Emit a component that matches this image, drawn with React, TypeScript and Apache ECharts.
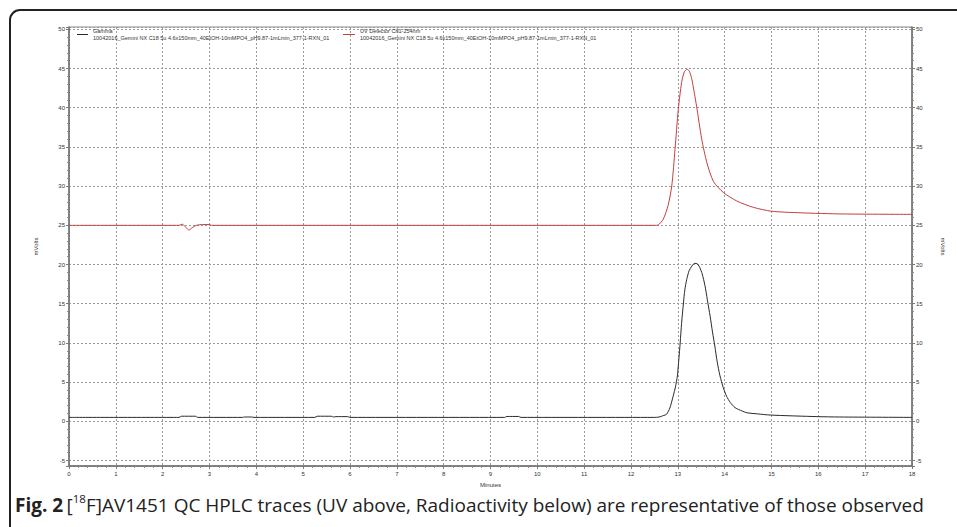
import { useEffect, useRef } from 'react';
import * as echarts from 'echarts';

// ---- data ----
const xMin = 0;
const xMax = 18;
const yMin = -5.7;
const yMax = 50.3;

const gammaName = 'Gamma';
const uvName = 'UV Detector Ch1-254nm';
const runFile = '10042016_Gemini NX C18 5u 4.6x150mm_40EtOH-10mMPO4_pH9.87-1mLmin_377-1-RXN_01';

const gammaTimes = [
  0, 2.35, 2.4, 2.7, 2.75, 3.7, 3.75, 3.9, 3.95, 5.25, 5.3, 5.6, 5.65, 5.7, 5.95, 6.0,
  9.3, 9.35, 9.6, 9.65, 12.5, 12.6, 12.7, 12.76, 12.83, 12.9, 12.95, 12.99, 13.02, 13.05,
  13.08, 13.12, 13.15, 13.19, 13.24, 13.3, 13.34, 13.39, 13.43, 13.47, 13.52, 13.58, 13.63,
  13.69, 13.74, 13.79, 13.84, 13.9, 13.97, 14.04, 14.12, 14.22, 14.3, 14.47, 14.7, 14.97,
  15.97, 16.46, 18,
];
const gammaValues = [
  0.5, 0.5, 0.65, 0.65, 0.5, 0.5, 0.55, 0.55, 0.5, 0.5, 0.65, 0.65, 0.55, 0.6, 0.6, 0.5,
  0.5, 0.62, 0.62, 0.5, 0.5, 0.55, 0.75, 0.9, 1.7, 3.2, 4.4, 5.8, 7.8, 10.0,
  12.5, 15.1, 16.8, 18.1, 19.2, 19.8, 20.1, 20.15, 20.0, 19.6, 18.8, 17.3, 15.5,
  13.4, 11.4, 9.6, 7.6, 5.8, 4.3, 3.2, 2.4, 1.75, 1.5, 1.1, 0.95, 0.8,
  0.6, 0.55, 0.5,
];

const uvTimes = [
  0, 2.35, 2.42, 2.5, 2.56, 2.63, 2.72, 2.85, 3.0, 3.05, 12.5, 12.58, 12.69, 12.79, 12.87,
  12.94, 13.01, 13.08, 13.14, 13.2, 13.25, 13.3, 13.4, 13.51, 13.62, 13.76, 13.97, 14.26,
  14.61, 15.0, 15.61, 16.53, 18,
];
const uvValues = [
  25.0, 25.0, 25.15, 24.7, 24.4, 24.7, 25.0, 25.1, 25.1, 25.0, 25.0, 25.05, 25.8, 27.5, 30.0,
  34.7, 39.8, 43.2, 44.6, 44.9, 44.6, 43.6, 40.2, 36.0, 33.0, 30.6, 29.2, 28.1,
  27.3, 26.8, 26.6, 26.45, 26.4,
];

const xAxisName = 'Minutes';
const yAxisName = 'mVolts';

const pairs = (xs: number[], ys: number[]) => xs.map((x, i) => [x, ys[i]]);

export default function App() {
  const ref = useRef<HTMLDivElement>(null);
  useEffect(() => {
    if (!ref.current) return;
    const chart = echarts.init(ref.current, null, { renderer: 'svg' });
    const axisFont = { fontFamily: 'Liberation Sans', fontSize: 6, color: '#333' };
    const dotted = { show: true, lineStyle: { color: '#9a9a9a', type: [2, 2] as any, width: 1 } };
    const legendText = { fontFamily: 'Liberation Sans', fontSize: 5.5, lineHeight: 6.5, color: '#333' };
    const yAxisBase = {
      type: 'value',
      min: yMin,
      max: yMax,
      splitNumber: 11,
      name: yAxisName,
      nameLocation: 'middle',
      nameTextStyle: { fontFamily: 'Liberation Sans', fontSize: 6, color: '#333' },
      axisLine: { show: true, onZero: false, lineStyle: { color: '#6e6e6e', width: 1.5 } },
      axisTick: { show: true, length: 3, lineStyle: { color: '#7a7a7a' } },
      minorTick: { show: true, splitNumber: 5, length: 2, lineStyle: { color: '#8a8a8a' } },
      axisLabel: { ...axisFont, margin: 4, showMinLabel: false, showMaxLabel: false },
    };
    chart.setOption({
      animation: false,
      backgroundColor: '#fff',
      grid: {
        left: 69, right: 45, top: 27, bottom: 61,
        show: true, borderColor: '#8a8a8a', borderWidth: 1, backgroundColor: 'transparent',
      },
      legend: [
        {
          data: [gammaName], left: 77, top: 28, padding: 0, itemWidth: 11, itemHeight: 1,
          icon: 'rect', itemGap: 0,
          formatter: (n: string) => n + '\n' + runFile,
          textStyle: legendText,
        },
        {
          data: [uvName], left: 343, top: 28, padding: 0, itemWidth: 12, itemHeight: 1,
          icon: 'rect', itemGap: 0,
          formatter: (n: string) => n + '\n' + runFile,
          textStyle: legendText,
        },
      ],
      xAxis: {
        type: 'value',
        min: xMin,
        max: xMax,
        interval: 1,
        name: xAxisName,
        nameLocation: 'middle',
        nameGap: 15,
        nameTextStyle: { fontFamily: 'Liberation Sans', fontSize: 6, color: '#333' },
        axisLine: { show: true, onZero: false, lineStyle: { color: '#6e6e6e', width: 1.5 } },
        axisTick: { show: true, length: 3, lineStyle: { color: '#7a7a7a' } },
        minorTick: { show: true, splitNumber: 5, length: 2, lineStyle: { color: '#8a8a8a' } },
        axisLabel: { ...axisFont, margin: 5 },
        splitLine: dotted,
      },
      yAxis: [
        { ...yAxisBase, position: 'left', nameGap: 30, nameRotate: 90, splitLine: dotted },
        { ...yAxisBase, position: 'right', nameGap: 28, nameRotate: -90, splitLine: { show: false } },
      ],
      series: [
        {
          name: gammaName, type: 'line', data: pairs(gammaTimes, gammaValues),
          symbol: 'none', smooth: 0.25, lineStyle: { color: '#2a2a2a', width: 1 },
          itemStyle: { color: '#2a2a2a' },
        },
        {
          name: uvName, type: 'line', data: pairs(uvTimes, uvValues),
          symbol: 'none', smooth: 0.25, lineStyle: { color: '#c0403c', width: 1 },
          itemStyle: { color: '#c0403c' },
        },
      ],
      graphic: [
        {
          type: 'rect', silent: true,
          shape: { x: 10, y: 10, width: 990, height: 570, r: 10 },
          style: { fill: 'none', stroke: '#222', lineWidth: 2 },
        },
        {
          type: 'text', left: 15, top: 492,
          style: {
            text: '{b|Fig. 2} {n|[}{s|18}{n|F]AV1451 QC HPLC traces (UV above, Radioactivity below) are representative of those observed}',
            rich: {
              b: { fontFamily: 'Open Sans', fontWeight: 'bold', fontSize: 19, lineHeight: 25, fill: '#222' },
              n: { fontFamily: 'Open Sans', fontSize: 19, lineHeight: 25, fill: '#222' },
              s: { fontFamily: 'Open Sans', fontSize: 11.5, lineHeight: 15, verticalAlign: 'top', fill: '#222' },
            },
          },
        },
      ],
    });
    return () => chart.dispose();
  }, []);
  return (
    <div
      ref={ref}
      style={{ position: 'fixed', left: 0, top: 0, width: 957, height: 527, background: '#fff' }}
    />
  );
}
